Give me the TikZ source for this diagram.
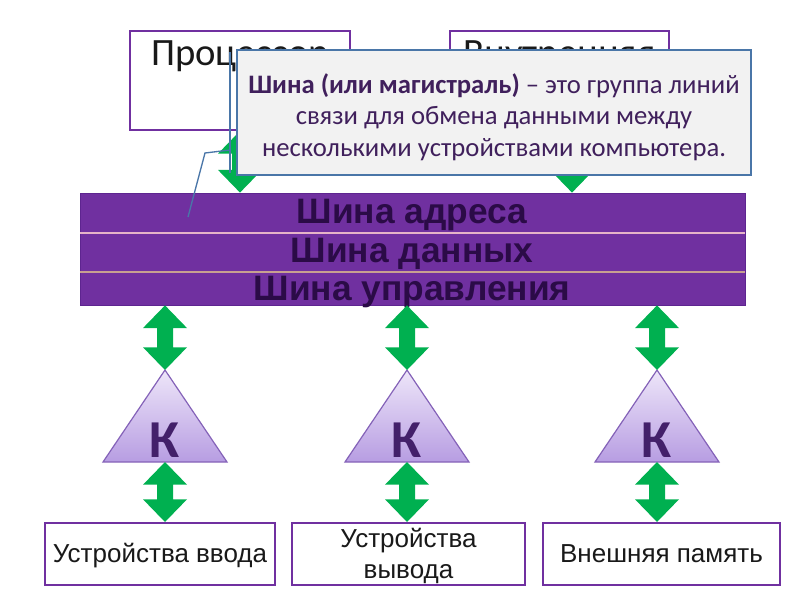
\documentclass[tikz,border=0pt]{standalone}
\usepackage{fontspec}
\setmainfont{Carlito}
\newfontfamily\arialf{Liberation Sans}
\usetikzlibrary{calc}
\definecolor{boxpurple}{HTML}{7030A0}
\definecolor{busedge}{HTML}{5E2590}
\definecolor{arrgreen}{HTML}{00B050}
\definecolor{bustext}{HTML}{2B0B47}
\definecolor{calltext}{HTML}{40205C}
\definecolor{callfill}{HTML}{F2F2F2}
\definecolor{callline}{HTML}{4A76A8}
\definecolor{trifillA}{HTML}{EEE6F9}
\definecolor{trifillB}{HTML}{B79DE2}
\definecolor{triline}{HTML}{8462B8}
\definecolor{ktext}{HTML}{43206A}
\definecolor{sepA}{HTML}{E6B4C8}
\definecolor{sepB}{HTML}{C8A090}
\begin{document}
\begin{tikzpicture}[x=0.75pt,y=-0.75pt,
  devbox/.style={draw=boxpurple, line width=1.5pt, fill=white, inner sep=0pt},
  bigtxt/.style={font=\fontsize{29}{34}\selectfont, text=black!90, inner sep=0pt},
  bustxt/.style={font=\arialf\bfseries\fontsize{26.5}{30}\selectfont, text=bustext, inner sep=0pt},
  devtxt/.style={font=\arialf\fontsize{19.5}{23}\selectfont, text=black!90, inner sep=0pt, align=center},
  calltxt/.style={font=\fontsize{20}{23.5}\selectfont, text=calltext, inner sep=0pt, align=center},
  ktxt/.style={font=\bfseries\fontsize{40}{44}\selectfont, text=ktext, inner sep=0pt},
  tri/.style={draw=triline, line width=0.9pt, top color=trifillA, bottom color=trifillB},
  dblarrow/.style={to path={let \p1=(\tikztostart), \p2=(\tikztotarget) in
    (\x1,\y1) -- (\x1+16.5pt,\y1-17pt) -- (\x1+6pt,\y1-17pt) -- (\x2+6pt,\y2+17pt)
    -- (\x2+16.5pt,\y2+17pt) -- (\x2,\y2) -- (\x2-16.5pt,\y2+17pt) -- (\x2-6pt,\y2+17pt)
    -- (\x1-6pt,\y1-17pt) -- (\x1-16.5pt,\y1-17pt) -- cycle}},
  arr/.style={fill=arrgreen, draw=none}
]
\useasboundingbox (0,0) rectangle (800,600);

% top boxes
\node[devbox, minimum width=165pt, minimum height=74.25pt] (proc) at (240,80.5) {};
\node[bigtxt, anchor=base] (proctxt) at (240,65) {Процессор};
\node[devbox, minimum width=164.25pt, minimum height=74.25pt] (mem) at (559.5,80.5) {};
\node[bigtxt, anchor=base] (memtxt) at (559.5,65) {Внутренняя};

% bus
\node[fill=boxpurple, draw=busedge, line width=0.6pt, minimum width=498.75pt, minimum height=84pt, inner sep=0pt] (bus) at (412.5,249) {};

% top arrows
\coordinate (m1) at (572,130);
\fill[arr] (proc.south) to[dblarrow] (proc.south |- bus.north);
\fill[arr] (m1) to[dblarrow] (m1 |- bus.north);

% separators
\coordinate (s1a) at (80,233); \coordinate (s1b) at (745,233);
\coordinate (s2a) at (80,272); \coordinate (s2b) at (745,272);
\draw[sepA, line width=1.5pt] (s1a) -- (s1b);
\draw[sepB, line width=1.5pt] (s2a) -- (s2b);

\node[bustxt, anchor=base] (b1) at (412,223) {Шина адреса};
\node[bustxt, anchor=base] (b2) at (412,262) {Шина данных};
\node[bustxt, anchor=base] (b3) at (412,300) {Шина управления};

% callout
\node[draw=callline, fill=callfill, line width=1.5pt, minimum width=385.5pt, minimum height=93.75pt, inner sep=0pt] (call) at (494,112.5) {};
\node[calltxt] (calltext) at (494,117) {\textbf{Шина (или магистраль)} – это группа линий\\связи для обмена данными между\\несколькими устройствами компьютера.};
\coordinate (ca1) at (230,52);
\coordinate (ca2) at (230,173);
\coordinate (cl1) at (230,150);
\coordinate (cl2) at (205,153);
\coordinate (cl3) at (188,217);
\draw[callline, line width=1pt] (ca1) -- (ca2);
\draw[callline, line width=1pt] (cl1) -- (cl2) -- (cl3);

% triangles (controllers)
\foreach \c/\n in {165/1, 407/2, 657/3}{
  \draw[tri] (\c,370) -- (\c+62,462) -- (\c-62,462) -- cycle;
  \coordinate (ta\n) at (\c,370);
  \coordinate (tb\n) at (\c,462);
  \node[ktxt, anchor=base] (k\n) at (\c,457) {К};
}

% bottom boxes
\node[devbox, minimum width=172.5pt, minimum height=46.5pt] (in) at (160,554) {};
\node[devtxt, anchor=base] (intxt) at (160,562) {Устройства ввода};
\node[devbox, minimum width=174.75pt, minimum height=46.5pt] (out) at (408.5,554) {};
\node[devtxt, anchor=base] (outtxt1) at (408.5,547) {Устройства};
\node[devtxt, anchor=base] (outtxt2) at (408.5,578) {вывода};
\node[devbox, minimum width=177.75pt, minimum height=46.5pt] (ext) at (661.5,554) {};
\node[devtxt, anchor=base] (exttxt) at (661.5,562) {Внешняя память};

% lower arrows
\fill[arr] (bus.south -| ta1) to[dblarrow] (ta1);
\fill[arr] (bus.south -| ta2) to[dblarrow] (ta2);
\fill[arr] (bus.south -| ta3) to[dblarrow] (ta3);
\fill[arr] (tb1) to[dblarrow] (tb1 |- in.north);
\fill[arr] (tb2) to[dblarrow] (tb2 |- out.north);
\fill[arr] (tb3) to[dblarrow] (tb3 |- ext.north);
\end{tikzpicture}
\end{document}
